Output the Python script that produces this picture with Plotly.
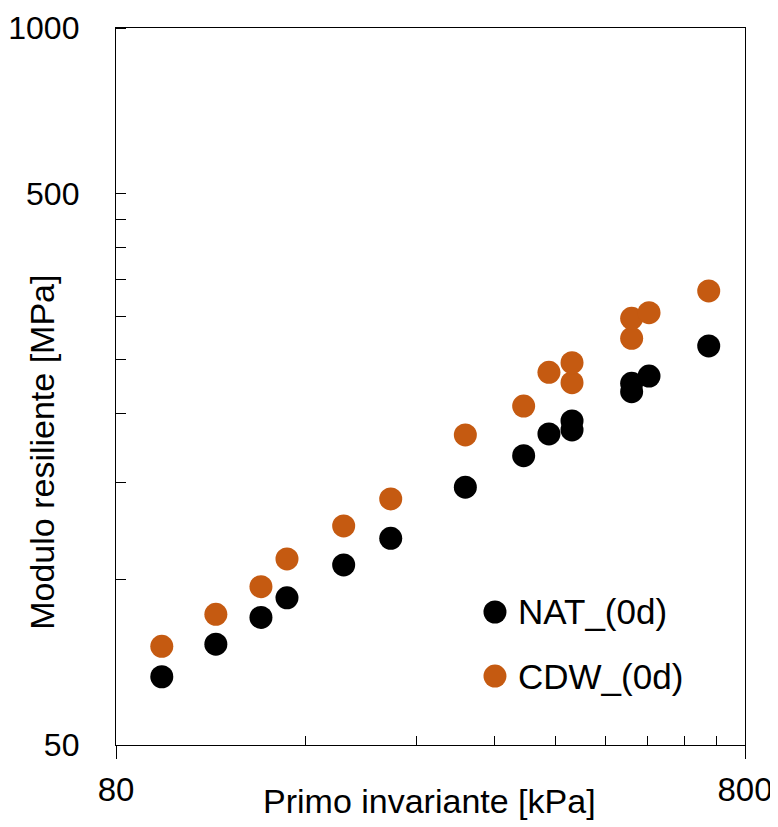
import math
import plotly.graph_objects as go

# ---- data ----
nat_x = [94.6, 115.3, 136.0, 149.6, 184.1, 218.7, 287.4, 355.8, 390.3, 424.7, 424.7, 528.3, 528.3, 563.0, 700.5]
nat_y = [66.5, 76.2, 85.2, 92.5, 106.1, 118.6, 146.8, 167.5, 183.4, 186.5, 193.6, 218.8, 226.6, 233.6, 264.9]

cdw_x = [94.6, 115.3, 136.0, 149.6, 184.1, 218.7, 287.4, 355.8, 390.3, 424.7, 424.7, 528.3, 528.3, 563.0, 700.5]
cdw_y = [75.5, 86.3, 96.9, 108.8, 124.9, 139.8, 182.6, 206.1, 237.3, 227.2, 247.0, 273.5, 297.3, 304.4, 333.3]

x_major = [80, 800]
y_major = [50, 500, 1000]
x_minor = [160, 240, 320, 400, 480, 560, 640, 720]
y_minor = [100, 150, 200, 250, 300, 350, 400, 450, 500, 1000]
y_cross = [50, 500]

series_names = ["NAT_(0d)", "CDW_(0d)"]
series_colors = ["#000000", "#C55A11"]

FONT = "Liberation Sans, Arial, sans-serif"

fig = go.Figure()
fig.add_trace(go.Scatter(x=nat_x, y=nat_y, mode="markers", name=series_names[0],
                         marker=dict(size=23, color=series_colors[0]), showlegend=False))
fig.add_trace(go.Scatter(x=cdw_x, y=cdw_y, mode="markers", name=series_names[1],
                         marker=dict(size=23, color=series_colors[1]), showlegend=False))

xr = [math.log10(80) - 1e-7, math.log10(800) + 1e-7]
yr = [math.log10(50) - 1e-7, 3 + 1e-7]

# the page body adds an 8px margin, so the figure is sized to fit the window
fig.update_layout(
    width=770, height=819,
    margin=dict(l=108, r=33, t=20, b=82),
    paper_bgcolor="white", plot_bgcolor="white",
    font=dict(family=FONT, color="black", size=34),
    xaxis=dict(type="log", range=xr, tickmode="array", tickvals=x_major,
               ticktext=[str(v) for v in x_major], automargin=False,
               ticks="outside", ticklen=13, tickwidth=1.3, tickcolor="black",
               showline=True, linecolor="black", linewidth=1.3, mirror=True,
               showgrid=False, zeroline=False, ticklabelstandoff=2,
               tickfont=dict(family=FONT, size=33),
               minor=dict(tickmode="array", tickvals=x_minor, ticks="inside",
                          ticklen=9, tickwidth=1.3, tickcolor="black", showgrid=False)),
    yaxis=dict(type="log", range=yr, tickmode="array", tickvals=y_major,
               ticktext=[str(v) for v in y_major], automargin=False,
               ticks="", showline=True, linecolor="black", linewidth=1.3, mirror=True,
               showgrid=False, zeroline=False, ticklabelstandoff=29,
               tickfont=dict(family=FONT, size=32),
               minor=dict(tickmode="array", tickvals=y_minor, ticks="inside",
                          ticklen=10, tickwidth=1.3, tickcolor="black", showgrid=False)),
    yaxis2=dict(type="log", range=yr, overlaying="y", anchor="x", side="left",
                automargin=False,
                tickmode="array", tickvals=y_cross, ticks="outside", ticklen=13,
                tickwidth=1.3, tickcolor="black", showticklabels=False,
                showline=False, showgrid=False, zeroline=False),
    showlegend=False,
)

# axis titles
fig.add_annotation(text="Primo invariante [kPa]", xref="paper", yref="paper",
                   x=0.499, y=-0.078, xanchor="center", yanchor="middle", showarrow=False,
                   font=dict(family=FONT, size=34, color="black"))
fig.add_annotation(text="Modulo resiliente [MPa]", xref="paper", yref="paper",
                   x=-0.118, y=0.4086, xanchor="center", yanchor="middle", showarrow=False,
                   textangle=-90, font=dict(family=FONT, size=34, color="black"))

# legend (custom, to keep the marker size of the series)
leg_y = [0.1855, 0.0962]
for name, col, ly in zip(series_names, series_colors, leg_y):
    fig.add_shape(type="circle", xref="paper", yref="paper",
                  xsizemode="pixel", ysizemode="pixel", xanchor=0.6025, yanchor=ly,
                  x0=-11.5, x1=11.5, y0=-11.5, y1=11.5,
                  fillcolor=col, line=dict(width=0))
    fig.add_annotation(text=name, xref="paper", yref="paper", x=0.636, y=ly,
                       xanchor="left", yanchor="middle", showarrow=False,
                       font=dict(family=FONT, size=35, color="black"))

fig.write_html("out.html")
